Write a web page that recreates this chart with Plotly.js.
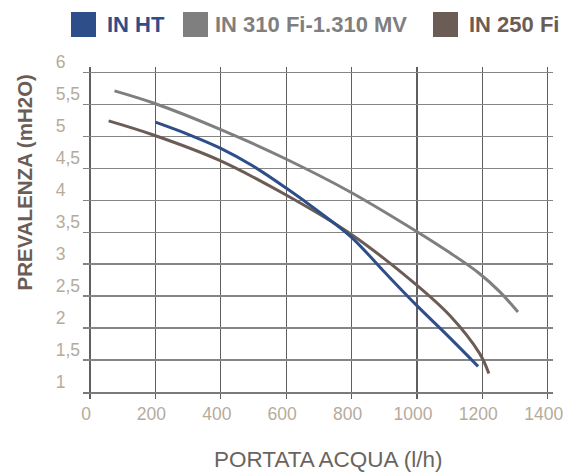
<!DOCTYPE html>
<html>
<head>
<meta charset="utf-8">
<script src="https://cdn.plot.ly/plotly-3.0.1.min.js"></script>
<style>
html,body{margin:0;padding:0;background:#fff;}
#chart{width:566px;height:473px;}
</style>
</head>
<body>
<div id="chart"></div>
<script>
// ---- data ----
var seriesNames = ['IN HT', 'IN 310 Fi-1.310 MV', 'IN 250 Fi'];
var seriesColors = ['#2e4e8a', '#7f7f7f', '#6b5d55'];

var inHtX = [200, 300, 400, 500, 600, 700, 800, 900, 1000, 1100, 1187];
var inHtY = [5.22, 5.03, 4.81, 4.53, 4.19, 3.82, 3.42, 2.88, 2.35, 1.85, 1.40];

var in310X = [75, 194, 393, 593, 792, 993, 1100, 1192, 1253, 1309];
var in310Y = [5.71, 5.52, 5.12, 4.66, 4.14, 3.53, 3.18, 2.85, 2.57, 2.25];

var in250X = [57, 194, 393, 593, 792, 993, 1100, 1192, 1220];
var in250Y = [5.24, 5.02, 4.63, 4.10, 3.49, 2.70, 2.20, 1.60, 1.29];

var xTickVals = [0, 200, 400, 600, 800, 1000, 1200, 1400];
var yTickVals = [1, 1.5, 2, 2.5, 3, 3.5, 4, 4.5, 5, 5.5, 6];
var yTickLabels = ['1', '1,5', '2', '2,5', '3', '3,5', '4', '4,5', '5', '5,5', '6'];

var xTitle = 'PORTATA ACQUA (l/h)';
var yTitle = 'PREVALENZA (mH2O)';

// ---- layout constants ----
var L = 83, T = 67, R = 13, B = 81;
var legendSquareLeft = [71, 183, 433];
var legendTextLeft = [106, 214, 467.5];
var legendCenterY = 24.5;

var xs = [inHtX, in310X, in250X];
var ys = [inHtY, in310Y, in250Y];

var traces = seriesNames.map(function (n, i) {
  return {
    x: xs[i], y: ys[i], name: n, type: 'scatter', mode: 'lines',
    line: {color: seriesColors[i], width: 3, shape: 'spline', smoothing: 1},
    showlegend: false, hoverinfo: 'x+y+name'
  };
});
// draw order: gray, brown, blue on top
traces = [traces[1], traces[2], traces[0]];

// left-align y tick labels by padding short ones with punctuation+figure space
var paddedY = yTickLabels.map(function (s) {
  return s.indexOf(',') < 0 ? s + '\u2008\u2007' : s;
});

var annotations = [];
seriesNames.forEach(function (n, i) {
  annotations.push({
    xref: 'paper', yref: 'paper', x: 0, y: 1,
    xanchor: 'left', yanchor: 'middle',
    xshift: legendSquareLeft[i] - L, yshift: T - legendCenterY,
    text: ' ', width: 25, height: 25, bgcolor: seriesColors[i],
    borderpad: 0, borderwidth: 0, showarrow: false
  });
  annotations.push({
    xref: 'paper', yref: 'paper', x: 0, y: 1,
    xanchor: 'left', yanchor: 'middle',
    xshift: legendTextLeft[i] - L, yshift: T - legendCenterY,
    text: '<b>' + n + '</b>', showarrow: false, borderpad: 0,
    font: {family: 'Liberation Sans, Arial, sans-serif', size: 22, color: seriesColors[i]}
  });
});
annotations.push({
  xref: 'paper', yref: 'paper', x: 0, y: 1,
  xanchor: 'center', yanchor: 'middle',
  xshift: 24 - L, yshift: T - 182.5, textangle: -90,
  text: '<b>' + yTitle + '</b>', showarrow: false,
  font: {family: 'Liberation Sans, Arial, sans-serif', size: 20.5, color: '#6b5d55'}
});
annotations.push({
  xref: 'paper', yref: 'paper', x: 0, y: 0,
  xanchor: 'center', yanchor: 'middle',
  xshift: 328 - L, yshift: (473 - B) - 459,
  text: xTitle, showarrow: false,
  font: {family: 'Liberation Sans, Arial, sans-serif', size: 22.5, color: '#6b645e'}
});

var layout = {
  width: 566, height: 473,
  margin: {l: L, r: R, t: T, b: B, pad: 0},
  paper_bgcolor: '#ffffff', plot_bgcolor: '#ffffff',
  showlegend: false,
  font: {family: 'Liberation Sans, Arial, sans-serif'},
  xaxis: {
    range: [-21.4, 1416.2], tickvals: xTickVals,
    showgrid: true, gridcolor: '#5f5f5f', gridwidth: 1.3,
    zeroline: false, showline: true, linecolor: '#7a7a7a', linewidth: 1.5,
    ticks: 'outside', ticklen: 5, tickcolor: '#5f5f5f', tickwidth: 1.3,
    ticklabeloverflow: 'allow', ticklabelshift: -4,
    tickfont: {size: 17.5, color: '#b5ab9c'}, fixedrange: true
  },
  yaxis: {
    range: [1, 6.083], tickvals: yTickVals, ticktext: paddedY,
    showgrid: true, gridcolor: '#858585', gridwidth: 1.3,
    zeroline: false, showline: false, ticks: '',
    ticklabelshift: -10, ticklabelstandoff: 2,
    tickfont: {size: 17.5, color: '#b5ab9c'}, fixedrange: true
  },
  annotations: annotations
};

Plotly.newPlot('chart', traces, layout, {displayModeBar: false, staticPlot: true});
</script>
</body>
</html>
